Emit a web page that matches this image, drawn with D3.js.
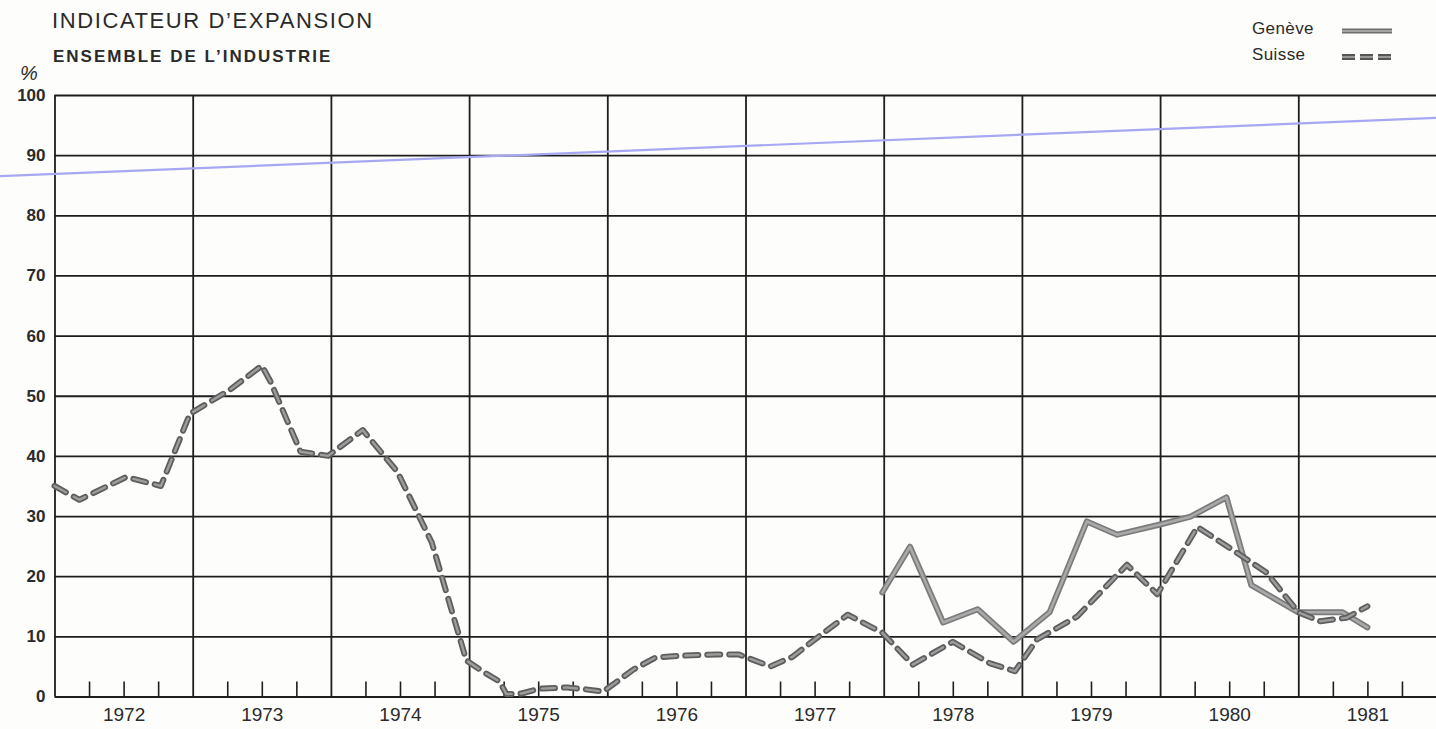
<!DOCTYPE html>
<html>
<head>
<meta charset="utf-8">
<script src="https://cdn.jsdelivr.net/npm/d3@7"></script>
<style>
  html, body { margin: 0; padding: 0; background: #fdfdfb; }
  svg { display: block; }
  text { font-family: "Liberation Sans", Arial, sans-serif; fill: #2a2a2a; }
</style>
</head>
<body>
<svg id="chart" width="1436" height="729"></svg>
<script>
// ---------- data ----------
const yearLabels = ["1972","1973","1974","1975","1976","1977","1978","1979","1980","1981"];
const yTickValues = [0,10,20,30,40,50,60,70,80,90,100];

// Suisse (dashed): time as fractional year, value in %
const suisseTime = [1972.00,1972.18,1972.52,1972.60,1972.77,1972.98,1973.27,1973.50,1973.56,1973.78,1973.98,
  1974.23,1974.48,1974.73,1974.98,1975.11,1975.22,1975.27,1975.38,1975.51,1975.71,1975.84,1975.97,
  1976.19,1976.35,1976.55,1976.79,1976.95,1977.18,1977.34,1977.52,1977.74,1977.99,
  1978.21,1978.50,1978.77,1978.95,1979.11,1979.40,1979.76,1979.98,
  1980.27,1980.49,1980.77,1981.00,1981.16,1981.35,1981.50];
const suisseValue = [35,32.7,36.5,36,35,47,51,55,52.5,40.7,40,
  44.3,37.4,25.6,6,4,2.5,0.4,0.5,1.3,1.5,1.2,0.8,
  4.5,6.5,6.8,7,7,5,6.6,9.8,13.6,10.6,
  5.3,9.1,5.5,4.2,9.5,13.3,21.9,17,
  28.2,24.9,20.6,14,12.5,13.1,15];

// Genève (solid)
const geneveTime = [1977.99,1978.19,1978.43,1978.68,1978.94,1979.20,1979.47,1979.69,1980.00,1980.22,1980.48,1980.66,1981.00,1981.32,1981.50];
const geneveValue = [17.3,24.9,12.3,14.5,9.1,14,29.1,26.9,28.6,29.9,33.1,18.5,14,14,11.5];

// faint blue line visible on the scan (in data units)
const blueLineTime = [1971.6, 1982.0];
const blueLineValue = [86.5, 96.2];

// ---------- layout ----------
const svg = d3.select("#chart");
const W = 1436, H = 729;
const x = d3.scaleLinear().domain([1972, 1982]).range([54.5, 1436.5]);
const y = d3.scaleLinear().domain([0, 100]).range([696.5, 95]);

svg.append("rect").attr("width", W).attr("height", H).attr("fill", "#fdfdfb");

const gridColor = "#1e1e1e";

// horizontal grid
const gy = svg.append("g")
  .attr("transform", `translate(${x(1972)},0)`)
  .call(d3.axisLeft(y).tickValues(yTickValues).tickSize(-(x(1982) - x(1972))).tickPadding(9).tickFormat(d3.format("d")));
gy.select(".domain").remove();
gy.selectAll(".tick line").attr("stroke", gridColor).attr("stroke-width", 1.8);
gy.selectAll(".tick text").attr("font-size", 17).attr("font-weight", "bold").attr("fill", "#2a2a2a")
  .style("font-family", "'Liberation Sans', Arial, sans-serif");

// vertical year lines
const years = d3.range(1972, 1983);
const gx = svg.append("g")
  .attr("transform", `translate(0,${y(0)})`)
  .call(d3.axisBottom(x).tickValues(years).tickSize(-(y(0) - y(100))).tickFormat(""));
gx.select(".domain").remove();
gx.selectAll(".tick line").attr("stroke", gridColor).attr("stroke-width", 1.8);

// quarter ticks
const quarters = [];
years.slice(0, 10).forEach(yr => { [0.25, 0.5, 0.75].forEach(q => quarters.push(yr + q)); });
const gq = svg.append("g")
  .attr("transform", `translate(0,${y(0)})`)
  .call(d3.axisBottom(x).tickValues(quarters).tickSize(-15).tickFormat(""));
gq.select(".domain").remove();
gq.selectAll(".tick line").attr("stroke", gridColor).attr("stroke-width", 1.6);

// year labels (centered in each year)
const labelScale = d3.scalePoint().domain(yearLabels).range([x(1972.5), x(1981.5)]);
const gl = svg.append("g")
  .attr("transform", `translate(0,${y(0)})`)
  .call(d3.axisBottom(labelScale).tickSize(0).tickPadding(11));
gl.select(".domain").remove();
gl.selectAll(".tick text").attr("font-size", 19).attr("fill", "#2a2a2a")
  .style("font-family", "'Liberation Sans', Arial, sans-serif");

// blue scan line
const blueData = blueLineTime.map((t, i) => ({t, v: blueLineValue[i]}));
svg.append("path").datum(blueData)
  .attr("d", d3.line().x(d => x(d.t)).y(d => y(d.v)))
  .attr("fill", "none").attr("stroke", "#a7a7f2").attr("stroke-width", 2.2);

// lines
const line = d3.line().x(d => x(d.t)).y(d => y(d.v));
const suisse = suisseTime.map((t, i) => ({t, v: suisseValue[i]}));
const geneve = geneveTime.map((t, i) => ({t, v: geneveValue[i]}));

// Genève solid
svg.append("path").datum(geneve).attr("d", line)
  .attr("fill", "none").attr("stroke", "#7b7b7b").attr("stroke-width", 6)
  .attr("stroke-linejoin", "round").attr("stroke-linecap", "round");
svg.append("path").datum(geneve).attr("d", line)
  .attr("fill", "none").attr("stroke", "#a9a9a9").attr("stroke-width", 2.6)
  .attr("stroke-linejoin", "round").attr("stroke-linecap", "round");

// Suisse dashed
svg.append("path").datum(suisse).attr("d", line)
  .attr("fill", "none").attr("stroke", "#5e5e5e").attr("stroke-width", 6)
  .attr("stroke-dasharray", "13,9").attr("stroke-linejoin", "round").attr("stroke-linecap", "round");
svg.append("path").datum(suisse).attr("d", line)
  .attr("fill", "none").attr("stroke", "#9d9d9d").attr("stroke-width", 2.4)
  .attr("stroke-dasharray", "13,9").attr("stroke-linejoin", "round").attr("stroke-linecap", "round");

// ---------- titles ----------
svg.append("text").attr("x", 52).attr("y", 28).attr("font-size", 22).attr("letter-spacing", 1.6)
  .text("INDICATEUR D’EXPANSION");
svg.append("text").attr("x", 53).attr("y", 62).attr("font-size", 17).attr("font-weight", "bold").attr("letter-spacing", 2)
  .text("ENSEMBLE DE L’INDUSTRIE");
svg.append("text").attr("x", 20).attr("y", 80).attr("font-size", 20).attr("font-style", "italic").text("%");

// ---------- legend ----------
const legend = svg.append("g");
legend.append("text").attr("x", 1252).attr("y", 34).attr("font-size", 17).attr("letter-spacing", 0.4).text("Genève");
legend.append("text").attr("x", 1252).attr("y", 60).attr("font-size", 17).attr("letter-spacing", 0.4).text("Suisse");
legend.append("line").attr("x1", 1342).attr("x2", 1392).attr("y1", 31).attr("y2", 31)
  .attr("stroke", "#6f6f6f").attr("stroke-width", 5);
legend.append("line").attr("x1", 1342).attr("x2", 1392).attr("y1", 31).attr("y2", 31)
  .attr("stroke", "#a5a5a5").attr("stroke-width", 2);
legend.append("line").attr("x1", 1342).attr("x2", 1395).attr("y1", 57).attr("y2", 57)
  .attr("stroke", "#555").attr("stroke-width", 6).attr("stroke-dasharray", "13,5");
legend.append("line").attr("x1", 1342).attr("x2", 1395).attr("y1", 57).attr("y2", 57)
  .attr("stroke", "#999").attr("stroke-width", 2).attr("stroke-dasharray", "13,5");
</script>
</body>
</html>
